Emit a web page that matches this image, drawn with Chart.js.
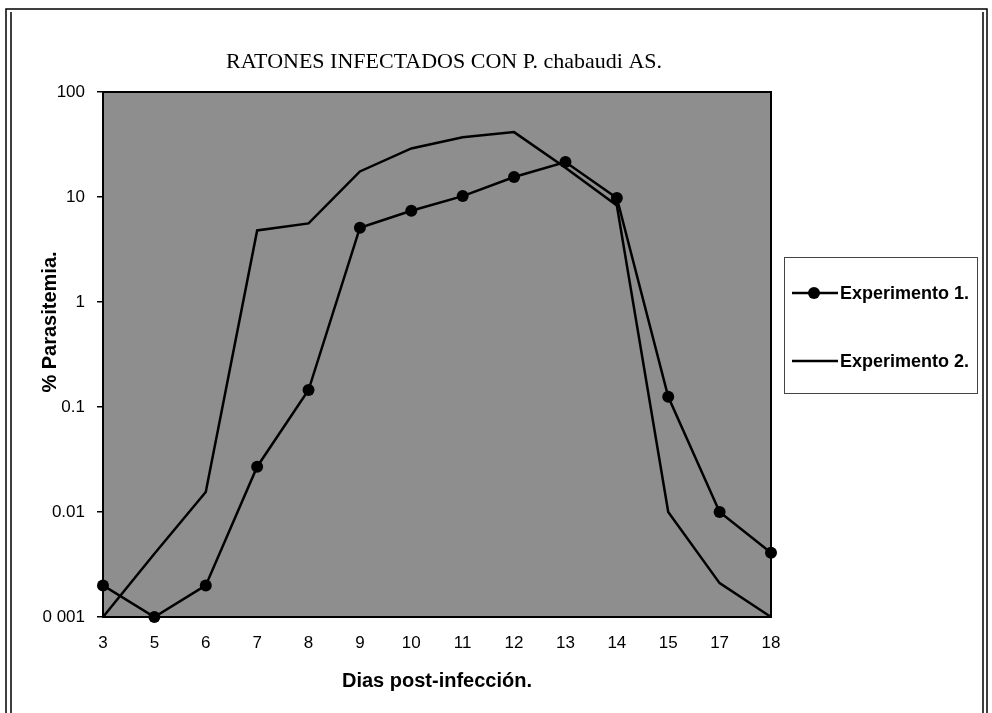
<!DOCTYPE html>
<html>
<head>
<meta charset="utf-8">
<script src="https://cdn.jsdelivr.net/npm/chart.js@4.4.1/dist/chart.umd.min.js"></script>
<style>
  html, body { margin: 0; padding: 0; background: #fff; }
  #chart { display: block; }
</style>
</head>
<body>
<canvas id="chart" width="992" height="713"></canvas>
<script>
// data
const days = ['3', '5', '6', '7', '8', '9', '10', '11', '12', '13', '14', '15', '17', '18'];
const experimento1 = [0.002, 0.001, 0.002, 0.027, 0.145, 5.1, 7.4, 10.2, 15.5, 21.5, 9.8, 0.125, 0.01, 0.0041];
const experimento2 = [0.001, 0.004, 0.0155, 4.8, 5.6, 17.5, 29, 37, 41.5, 19, 8.3, 0.01, 0.0021, 0.001];
const yTickValues = [0.001, 0.01, 0.1, 1, 10, 100];
const yTickLabels = ['0 001', '0.01', '0.1', '1', '10', '100'];

const chartTitle = 'RATONES INFECTADOS CON P. chabaudi AS.';
const xTitle = 'Dias post-infección.';
const yTitle = '% Parasitemia.';

const sans = "'Liberation Sans', Arial, sans-serif";
const serif = "'Liberation Serif', 'Times New Roman', serif";

const decor = {
  id: 'decor',
  beforeDraw(chart) {
    const ctx = chart.ctx;
    const a = chart.chartArea;
    ctx.save();
    ctx.fillStyle = '#fff';
    ctx.fillRect(0, 0, chart.width, chart.height);
    // page frame
    ctx.strokeStyle = '#000';
    ctx.lineWidth = 1.5;
    ctx.beginPath();
    ctx.moveTo(6, 713); ctx.lineTo(6, 9); ctx.lineTo(987, 9); ctx.lineTo(987, 713);
    ctx.moveTo(11, 713); ctx.lineTo(11, 12);
    ctx.moveTo(983, 12); ctx.lineTo(983, 713);
    ctx.stroke();
    // plot background
    ctx.fillStyle = '#8e8e8e';
    ctx.fillRect(a.left, a.top, a.right - a.left, a.bottom - a.top);
    ctx.restore();
  },
  beforeDatasetsDraw(chart) {
    const ctx = chart.ctx;
    const a = chart.chartArea;
    ctx.save();
    ctx.strokeStyle = '#000';
    ctx.lineWidth = 2;
    ctx.strokeRect(a.left, a.top, a.right - a.left, a.bottom - a.top);
    ctx.restore();
  },
  afterDraw(chart) {
    const ctx = chart.ctx;
    ctx.save();
    ctx.fillStyle = '#000';
    // title
    ctx.font = '22px ' + serif;
    ctx.textAlign = 'center';
    ctx.textBaseline = 'middle';
    ctx.fillText(chartTitle, 444, 62);
    // y axis title
    ctx.save();
    ctx.translate(50, 322);
    ctx.rotate(-Math.PI / 2);
    ctx.font = 'bold 20px ' + sans;
    ctx.fillText(yTitle, 0, 0);
    ctx.restore();
    // legend
    ctx.strokeStyle = '#444';
    ctx.lineWidth = 1;
    ctx.strokeRect(784.5, 257.5, 193, 136);
    ctx.font = 'bold 18px ' + sans;
    ctx.textAlign = 'left';
    const rows = [293, 361];
    chart.data.datasets.forEach((ds, i) => {
      const y = rows[i];
      ctx.strokeStyle = '#000';
      ctx.lineWidth = ds.borderWidth;
      ctx.beginPath();
      ctx.moveTo(792, y);
      ctx.lineTo(838, y);
      ctx.stroke();
      if (ds.pointRadius > 0) {
        ctx.beginPath();
        ctx.arc(814, y, ds.pointRadius, 0, Math.PI * 2);
        ctx.fill();
      }
      ctx.fillText(ds.label, 840, y + 1);
    });
    ctx.restore();
  }
};

new Chart(document.getElementById('chart'), {
  type: 'line',
  data: {
    labels: days,
    datasets: [
      {
        label: 'Experimento 1.',
        data: experimento1,
        borderColor: '#000',
        backgroundColor: '#000',
        borderWidth: 2.5,
        pointRadius: 6,
        pointBackgroundColor: '#000',
        pointBorderWidth: 0,
        tension: 0,
        clip: false
      },
      {
        label: 'Experimento 2.',
        data: experimento2,
        borderColor: '#000',
        backgroundColor: '#000',
        borderWidth: 2.5,
        pointRadius: 0,
        tension: 0,
        clip: false
      }
    ]
  },
  options: {
    responsive: false,
    animation: false,
    layout: { padding: { left: 20, right: 221, top: 92, bottom: 16 } },
    plugins: {
      legend: { display: false },
      title: { display: false },
      tooltip: { enabled: false }
    },
    scales: {
      x: {
        type: 'category',
        offset: false,
        grid: { display: false, drawTicks: false, tickLength: 0 },
        border: { display: false },
        ticks: { color: '#000', padding: 16, font: { size: 17, family: sans }, maxRotation: 0, autoSkip: false },
        title: { display: true, text: xTitle, color: '#000', font: { size: 20, weight: 'bold', family: sans }, padding: { top: 0, bottom: 4 } },
        afterFit(scale) { scale.height = 80; }
      },
      y: {
        type: 'logarithmic',
        min: 0.001,
        max: 100,
        grid: { display: true, drawOnChartArea: false, drawTicks: true, tickLength: 6, color: '#000', lineWidth: 1.5 },
        border: { display: false },
        ticks: {
          color: '#000',
          padding: 12,
          font: { size: 17, family: sans },
          callback: (v) => {
            const i = yTickValues.findIndex(t => Math.abs(t - v) < t * 1e-6);
            return i >= 0 ? yTickLabels[i] : '';
          }
        },
        afterBuildTicks(scale) { scale.ticks = yTickValues.map(v => ({ value: v })); },
        afterFit(scale) { scale.width = 83; }
      }
    }
  },
  plugins: [decor]
});
</script>
</body>
</html>
